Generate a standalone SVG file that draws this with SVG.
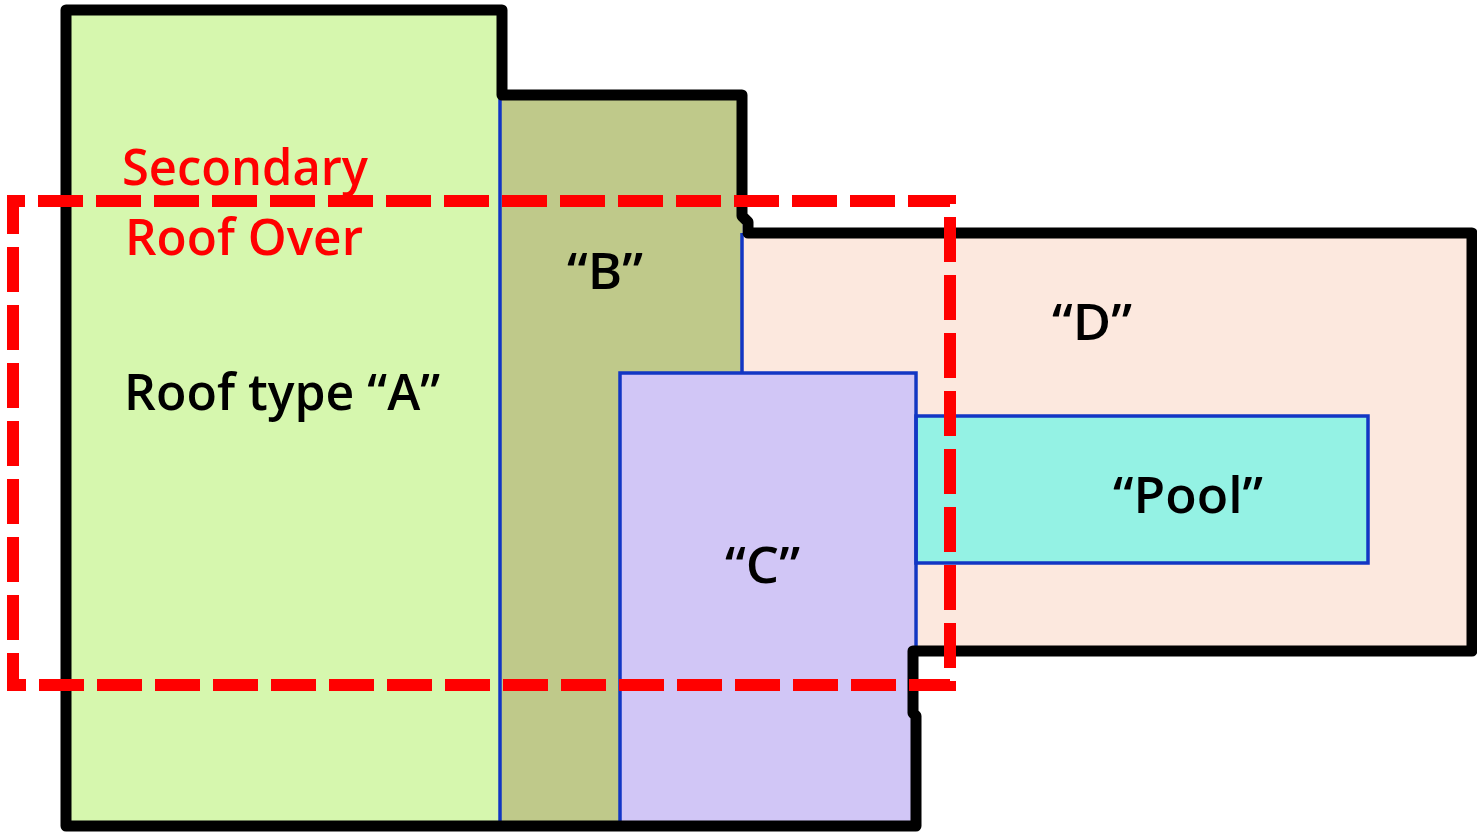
<svg xmlns="http://www.w3.org/2000/svg" width="1477" height="832" viewBox="0 0 1477 832">
  <style>
    .wall { fill: none; stroke: #000000; stroke-width: 11; stroke-linejoin: round; }
    .edge { fill: none; stroke: #1236c4; stroke-width: 3.5; }
    .lbl { font-family: "Open Sans", "Liberation Sans", sans-serif; font-size: 50px; font-weight: 600; fill: #000000; }
    .red { font-family: "Open Sans", "Liberation Sans", sans-serif; font-size: 50px; font-weight: 600; fill: #ff0000; }
    .dash { fill: none; stroke: #ff0000; stroke-width: 12; stroke-dasharray: 45 13; stroke-dashoffset: 33; }
  </style>
  <rect x="0" y="0" width="1477" height="832" fill="#ffffff"/>

  <g id="roof-a">
    <rect x="66" y="10" width="436" height="816" fill="#d6f7ae"/>
  </g>
  <g id="roof-b">
    <rect x="501" y="95" width="241" height="731" fill="#bfc98a"/>
  </g>
  <g id="roof-d">
    <rect x="742" y="233" width="730" height="418" fill="#fce8de"/>
  </g>
  <g id="roof-c">
    <rect x="620" y="373" width="294" height="453" fill="#d1c6f6"/>
  </g>
  <g id="pool">
    <rect x="916" y="416" width="452" height="147" style="fill:#94f2e4" class="edge"/>
  </g>

  <g id="edges">
    <line class="edge" x1="500" y1="95" x2="500" y2="822"/>
    <line class="edge" x1="742" y1="233" x2="742" y2="373"/>
    <polyline class="edge" points="620,822 620,373 916,373 916,651"/>
  </g>

  <g id="outline">
    <path class="wall" d="M66,10 H502 V95 H742 V216 L748,222 V233 H1472 V651 H913 V713 L916,716 V826 H66 Z"/>
  </g>

  <g id="secondary-roof">
    <path class="dash" d="M13,201 H950 V685 H13 Z"/>
  </g>

  <g id="labels">
    <text class="red" x="122" y="185" textLength="246" lengthAdjust="spacingAndGlyphs">Secondary</text>
    <text class="red" x="125" y="255" textLength="238" lengthAdjust="spacingAndGlyphs">Roof Over</text>
    <text class="lbl" x="124" y="410" textLength="316" lengthAdjust="spacingAndGlyphs">Roof type “A”</text>
    <text class="lbl" x="567" y="289" textLength="76" lengthAdjust="spacingAndGlyphs">“B”</text>
    <text class="lbl" x="1052" y="340" textLength="80" lengthAdjust="spacingAndGlyphs">“D”</text>
    <text class="lbl" x="725" y="583" textLength="75" lengthAdjust="spacingAndGlyphs">“C”</text>
    <text class="lbl" x="1113" y="513" textLength="150" lengthAdjust="spacingAndGlyphs">“Pool”</text>
  </g>
</svg>
